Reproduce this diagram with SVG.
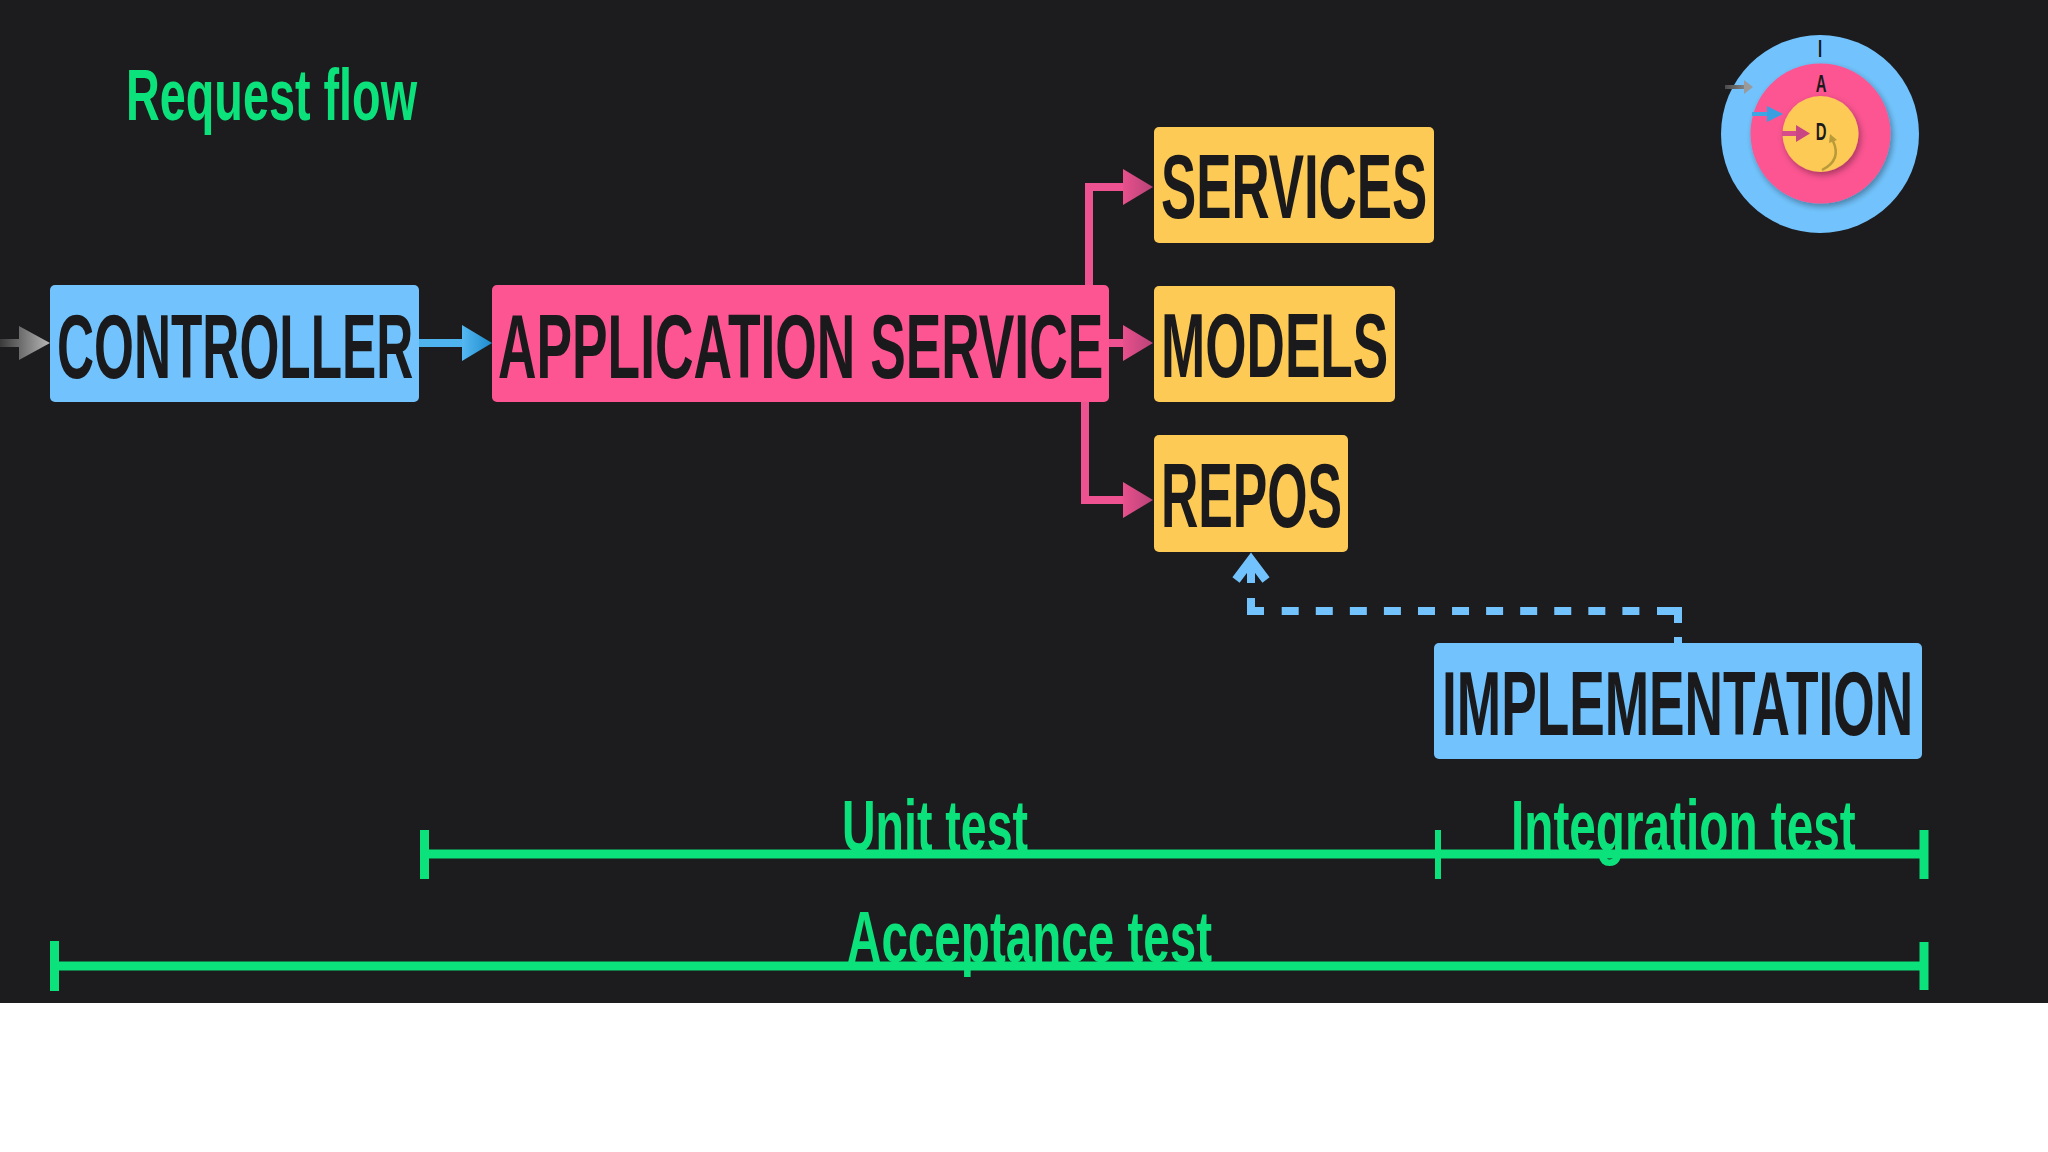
<svg xmlns="http://www.w3.org/2000/svg" width="2048" height="1152" viewBox="0 0 2048 1152">
<defs>
<style>
.lbl{font-family:"Liberation Sans","DejaVu Sans",Arial,sans-serif;font-weight:bold;fill:#1a191b;font-size:90px}
.grn{font-family:"Liberation Sans","DejaVu Sans",Arial,sans-serif;font-weight:bold;fill:#0ce27b;font-size:73px}
.ico{font-family:"Liberation Sans","DejaVu Sans",Arial,sans-serif;font-weight:bold;fill:#1a191b;font-size:24px;text-anchor:middle}
.blue{fill:#72c3fd}
.pink{fill:#fc5591}
.yel{fill:#fdca56}
.pl{fill:none;stroke:#ee5290;stroke-width:8;stroke-linejoin:miter}
.bar{stroke:#0ce27b;stroke-width:9;fill:none}
.dash{fill:none;stroke:#72c3fd;stroke-width:8;stroke-linecap:butt}
</style>
<linearGradient id="gPink" x1="0" y1="0" x2="1" y2="0">
<stop offset="0" stop-color="#e8508c"/><stop offset="1" stop-color="#b84378"/>
</linearGradient>
<linearGradient id="gBlue" x1="0" y1="0" x2="1" y2="0">
<stop offset="0" stop-color="#55b8f2"/><stop offset="1" stop-color="#1e8ccd"/>
</linearGradient>
<linearGradient id="gGrey" x1="0" y1="0" x2="50" y2="0" gradientUnits="userSpaceOnUse">
<stop offset="0" stop-color="#3a3a3a"/><stop offset="1" stop-color="#b8b8b8"/>
</linearGradient>
<linearGradient id="gGrey2" x1="1725" y1="0" x2="1753" y2="0" gradientUnits="userSpaceOnUse">
<stop offset="0" stop-color="#4a4a4a"/><stop offset="1" stop-color="#9a9a9a"/>
</linearGradient>
<filter id="sh" x="-20%" y="-20%" width="140%" height="140%">
<feDropShadow dx="2" dy="3" stdDeviation="3" flood-color="#000" flood-opacity="0.35"/>
</filter>
</defs>
<rect x="0" y="0" width="2048" height="1152" fill="#ffffff"/>
<rect x="0" y="0" width="2048" height="1003" fill="#1c1b1d"/>

<text class="grn" transform="translate(126,120) scale(0.641,1)" textLength="454" lengthAdjust="spacingAndGlyphs">Request flow</text>

<g id="connectors">
<!-- entry arrow -->
<rect x="0" y="339" width="22" height="8" fill="url(#gGrey)"/>
<polygon points="19,326 50,343 19,360" fill="url(#gGrey)"/>
<!-- controller to app service -->
<rect x="419" y="339" width="45" height="8" fill="#4fb3ee"/>
<polygon points="462,325 492,343 462,361" fill="url(#gBlue)"/>
<!-- app service to services -->
<path class="pl" d="M1089,286 V187 H1125"/>
<polygon points="1123,169 1153,187 1123,205" fill="url(#gPink)"/>
<!-- app service to models -->
<path class="pl" d="M1108,343 H1125"/>
<polygon points="1123,325 1153,343 1123,361" fill="url(#gPink)"/>
<!-- app service to repos -->
<path class="pl" d="M1085,401 V500 H1125"/>
<polygon points="1123,482 1153,500 1123,518" fill="url(#gPink)"/>
<!-- implementation to repos (dashed) -->
<line class="dash" x1="1678" y1="637" x2="1678" y2="645"/>
<path class="dash" d="M1657,611 H1678 V623"/>
<line class="dash" x1="1281.7" y1="611" x2="1639.4" y2="611" stroke-dasharray="17 17.07"/>
<path class="dash" d="M1264,611 H1251 V598"/>
<line class="dash" x1="1251" y1="562" x2="1251" y2="583"/>
<polyline points="1236,580 1251,560 1266,580" fill="none" stroke="#72c3fd" stroke-width="9" stroke-linejoin="miter"/>
</g>

<g id="controller">
<rect class="blue" x="50" y="285" width="369" height="117" rx="5"/>
<text class="lbl" transform="translate(57,378) scale(0.57,1)" textLength="625" lengthAdjust="spacingAndGlyphs">CONTROLLER</text>
</g>
<g id="application-service">
<rect class="pink" x="492" y="285" width="617" height="117" rx="5"/>
<text class="lbl" transform="translate(498,378) scale(0.587,1)" textLength="1031" lengthAdjust="spacingAndGlyphs">APPLICATION SERVICE</text>
</g>
<g id="services">
<rect class="yel" x="1154" y="127" width="280" height="116" rx="5"/>
<text class="lbl" transform="translate(1161,218) scale(0.585,1)" textLength="455" lengthAdjust="spacingAndGlyphs">SERVICES</text>
</g>
<g id="models">
<rect class="yel" x="1154" y="286" width="241" height="116" rx="5"/>
<text class="lbl" transform="translate(1161,377) scale(0.59,1)" textLength="385" lengthAdjust="spacingAndGlyphs">MODELS</text>
</g>
<g id="repos">
<rect class="yel" x="1154" y="435" width="194" height="117" rx="5"/>
<text class="lbl" transform="translate(1161,527) scale(0.575,1)" textLength="315" lengthAdjust="spacingAndGlyphs">REPOS</text>
</g>
<g id="implementation">
<rect class="blue" x="1434" y="643" width="488" height="116" rx="5"/>
<text class="lbl" transform="translate(1442,735) scale(0.581,1)" textLength="811" lengthAdjust="spacingAndGlyphs">IMPLEMENTATION</text>
</g>

<g id="test-scopes">
<line class="bar" x1="424" y1="854" x2="1926" y2="854"/>
<line class="bar" x1="424.5" y1="830" x2="424.5" y2="879"/>
<line x1="1438" y1="830" x2="1438" y2="879" stroke="#0ce27b" stroke-width="6"/>
<line class="bar" x1="1924" y1="830" x2="1924" y2="879"/>
<line class="bar" x1="54" y1="966" x2="1926" y2="966"/>
<line class="bar" x1="54.5" y1="941" x2="54.5" y2="991"/>
<line class="bar" x1="1924" y1="942" x2="1924" y2="990"/>
<text class="grn" transform="translate(842,851) scale(0.637,1)" textLength="292" lengthAdjust="spacingAndGlyphs">Unit test</text>
<text class="grn" transform="translate(1511,851) scale(0.654,1)" textLength="527" lengthAdjust="spacingAndGlyphs">Integration test</text>
<text class="grn" transform="translate(847,962) scale(0.652,1)" textLength="560" lengthAdjust="spacingAndGlyphs">Acceptance test</text>
</g>

<g id="onion-icon">
<circle class="blue" cx="1820" cy="134" r="99"/>
<circle class="pink" cx="1820.5" cy="133.5" r="70" filter="url(#sh)"/>
<circle class="yel" cx="1820.5" cy="134" r="38" filter="url(#sh)"/>
<text class="ico" transform="translate(1820,57) scale(0.62,1)">I</text>
<text class="ico" transform="translate(1821,92) scale(0.62,1)">A</text>
<text class="ico" transform="translate(1821,140) scale(0.62,1)">D</text>
<rect x="1725" y="85" width="21" height="4" fill="url(#gGrey2)"/>
<polygon points="1744,80 1753,87 1744,94" fill="#9a9a9a"/>
<rect x="1752" y="112" width="17" height="4" fill="#3fa6e4"/>
<polygon points="1767,106 1783,114 1767,122" fill="#3a9fe0"/>
<rect x="1782" y="131" width="16" height="5" fill="#d64c8a"/>
<polygon points="1796,125 1810,133.5 1796,142" fill="#c94682"/>
<path d="M1822,170 Q1842,160 1833,141" fill="none" stroke="#b89a3a" stroke-width="2.5"/>
<polygon points="1830,134 1837,140 1829,143" fill="#b89a3a"/>
</g>
</svg>
